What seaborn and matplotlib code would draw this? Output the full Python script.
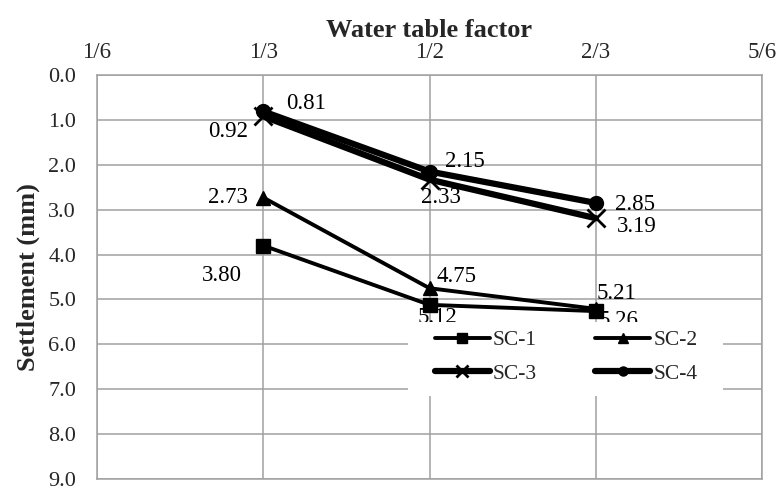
import matplotlib
matplotlib.use('Agg')
import matplotlib.pyplot as plt
import matplotlib.patches as mpatches
import seaborn as sns
import pandas as pd

# data
water_table = [1/3, 1/2, 2/3]
x_ticks = [1/6, 1/3, 1/2, 2/3, 5/6]
x_tick_labels = ['1/6', '1/3', '1/2', '2/3', '5/6']
y_ticks = [0, 1, 2, 3, 4, 5, 6, 7, 8, 9]

sc1 = [3.80, 5.12, 5.26]
sc2 = [2.73, 4.75, 5.21]
sc3 = [0.92, 2.33, 3.19]
sc4 = [0.81, 2.15, 2.85]

series_names = ['SC-1', 'SC-2', 'SC-3', 'SC-4']
series_values = [sc1, sc2, sc3, sc4]
markers = ['s', '^', 'x', 'o']
marker_sizes = [10, 10, 13, 10]
line_widths = [2.8, 2.8, 4.5, 4.5]

# label offsets in pixels (dx, dy) and horizontal alignment, per series per point
label_offsets = [
    [(-21, -30, 'right'), (8, -13, 'center'), (3, -9, 'left')],
    [(-15, 0, 'right'), (7, 12, 'left'), (1, 15, 'left')],
    [(-15, -15, 'right'), (-8, -18, 'left'), (21, -8, 'left')],
    [(23, 8, 'left'), (15, 10, 'left'), (19, -2, 'left')],
]

sns.set_style('white')
plt.rcParams['font.family'] = ['Liberation Serif', 'DejaVu Serif']

GRID = '#a0a0a0'

fig = plt.figure(figsize=(7.84, 4.91), dpi=100)
ax = fig.add_axes([97 / 784, 1 - 479 / 491, 665 / 784, 404 / 491])

df = pd.DataFrame({'x': water_table * 4,
                   'y': sc1 + sc2 + sc3 + sc4,
                   'series': [n for n in series_names for _ in water_table]})

for name, mk, ms, lw in zip(series_names, markers, marker_sizes, line_widths):
    sub = df[df['series'] == name]
    sns.lineplot(data=sub, x='x', y='y', ax=ax, color='black', linewidth=lw,
                 marker=mk, markersize=ms, markeredgewidth=2 if mk == 'x' else 1,
                 markeredgecolor='black', label=name, zorder=3)

for vals, offs in zip(series_values, label_offsets):
    for xv, yv, (dx, dy, ha) in zip(water_table, vals, offs):
        ax.annotate(f'{yv:.2f}', (xv, yv), xytext=(dx, dy), textcoords='offset pixels',
                    ha=ha, va='center', fontsize=16.5, color='black', zorder=4)

ax.set_xlim(1/6, 5/6)
ax.set_ylim(9, 0)
ax.set_xticks(x_ticks)
ax.set_xticklabels(x_tick_labels)
ax.set_yticks(y_ticks)
ax.set_yticklabels([f'{v:.1f}' for v in y_ticks])
ax.xaxis.tick_top()
ax.xaxis.set_label_position('top')
ax.tick_params(axis='x', length=0, pad=9, labelsize=16.5)
ax.tick_params(axis='y', length=0, pad=15, labelsize=16)

ax.grid(True, color=GRID, linewidth=1.1)
ax.set_axisbelow(True)
for sp in ax.spines.values():
    sp.set_color(GRID)
    sp.set_linewidth(1.1)

ax.set_xlabel('Water table factor', fontsize=19, fontweight='bold', labelpad=3)
ax.set_ylabel('Settlement (mm)', fontsize=19, fontweight='bold', labelpad=6)

# white box behind legend
box = mpatches.Rectangle(((408 - 97) / 665, 1 - (396 - 75) / 404), 315 / 665, 74 / 404,
                         transform=ax.transAxes, facecolor='white', edgecolor='none',
                         zorder=5, clip_on=False)
ax.add_patch(box)

h, l = ax.get_legend_handles_labels()
order = [0, 2, 1, 3]
leg = ax.legend([h[i] for i in order], [l[i] for i in order], ncol=2,
                loc='upper left', bbox_to_anchor=((435 - 97) / 665, 1 - (330 - 75) / 404),
                frameon=False, fontsize=15.5, borderpad=0, borderaxespad=0,
                handlelength=2.55, handletextpad=0.15, columnspacing=2.7,
                labelspacing=0.63, markerscale=0.65)
leg.set_zorder(6)

fig.savefig('out.png', dpi=100)
